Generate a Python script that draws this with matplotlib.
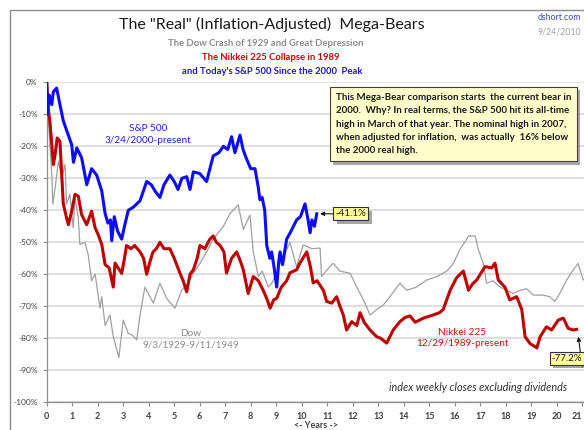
import matplotlib
matplotlib.use("Agg")
import matplotlib.pyplot as plt
import matplotlib.patheffects as pe
from matplotlib.patches import Rectangle

plt.rcParams['font.family'] = ['Lato', 'DejaVu Sans']

# S&P 500 real, from 3/24/2000 peak (years since peak, % off peak)
sp_years = [0.00, 0.02, 0.10, 0.20, 0.26, 0.39, 0.52, 0.65, 0.78, 0.98, 1.05, 1.18, 1.37, 1.50,
            1.57, 1.76, 1.96, 2.16, 2.29, 2.40, 2.50, 2.55, 2.65, 2.78, 2.94, 3.05, 3.20, 3.40,
            3.66, 3.92, 4.10, 4.25, 4.44, 4.60, 4.83, 5.00, 5.15, 5.30, 5.49, 5.62, 5.75, 6.00,
            6.27, 6.40, 6.53, 6.75, 6.93, 7.10, 7.25, 7.38, 7.58, 7.70, 7.84, 8.00, 8.17, 8.30,
            8.36, 8.45, 8.55, 8.63, 8.75, 8.82, 8.92, 9.02, 9.10, 9.15, 9.25, 9.41, 9.55, 9.80,
            9.95, 10.13, 10.25, 10.33, 10.40, 10.50, 10.59]
sp_pct = [0, -10, -4, -7, -3, -1.8, -7, -12, -15, -19.5, -25, -20.5, -23.6, -29,
          -32, -27, -29, -34, -41, -44, -43, -49.5, -42, -46.5, -49, -45, -40, -39,
          -37, -31, -32, -34, -36, -32, -29, -31, -33.5, -30, -29.5, -33.5, -28, -28.5,
          -31, -27, -23, -22, -20, -21, -17, -22, -16.5, -21, -24, -27, -27, -33,
          -36.7, -36, -40, -51, -55, -53, -58, -64, -56, -53, -57, -49, -47, -43,
          -42, -38, -43, -47, -43, -45, -41.1]

# Nikkei 225 real, from 12/29/1989
nk_years = [0.00, 0.06, 0.13, 0.20, 0.26, 0.33, 0.41, 0.52, 0.59, 0.65, 0.78, 0.85, 0.98, 1.11,
            1.24, 1.37, 1.57, 1.76, 1.90, 2.02, 2.16, 2.29, 2.45, 2.61, 2.68, 2.80, 2.94, 3.05,
            3.13, 3.30, 3.45, 3.66, 3.80, 3.92, 4.05, 4.17, 4.30, 4.44, 4.60, 4.83, 5.00, 5.22,
            5.35, 5.49, 5.62, 5.75, 5.90, 6.01, 6.20, 6.40, 6.53, 6.65, 6.80, 6.95, 7.05, 7.25,
            7.45, 7.60, 7.71, 7.90, 8.10, 8.30, 8.49, 8.65, 8.76, 8.90, 9.02, 9.20, 9.41, 9.54,
            9.80, 9.93, 10.20, 10.35, 10.45, 10.60, 10.85, 10.98, 11.18, 11.37, 11.50, 11.63,
            11.76, 11.96, 12.16, 12.29, 12.45, 12.68, 12.94, 13.10, 13.33, 13.59, 13.85, 14.05,
            14.25, 14.45, 14.77, 15.16, 15.40, 15.55, 15.82, 16.08, 16.34, 16.54, 16.70, 16.86,
            17.19, 17.45, 17.58, 17.71, 17.97, 18.16, 18.43, 18.63, 18.76, 18.95, 19.22, 19.35,
            19.60, 19.80, 20.06, 20.26, 20.45, 20.65, 20.78]
nk_pct = [0, -8, -12.7, -19.5, -25.7, -22.6, -17.4, -18.5, -29, -38, -42.4, -44.5, -40.3, -35,
          -35.6, -41.4, -44.5, -40.3, -45.5, -47.6, -50.7, -57, -58, -64, -56.5, -58, -59.7, -55,
          -51, -52, -51, -53, -55, -60, -56, -53, -52, -50, -52, -52, -55, -59.5,
          -62, -65.5, -60, -58.6, -55, -51, -52, -49, -48, -50, -51, -53, -59.6, -55,
          -53, -56, -58.6, -66, -60.7, -62, -65, -68, -70.6, -68, -67.5, -64, -62, -59.5,
          -58.6, -56.5, -53, -58, -62.7, -62, -65, -68.5, -69, -67, -70, -72.7,
          -77.4, -74.8, -76, -72, -75, -77.4, -79.5, -80, -81.5, -77.4, -74.8, -73.5,
          -73, -75, -73.7, -72.7, -72, -71, -65, -61, -59, -65, -63, -61.8,
          -57.6, -58, -56.5, -61.8, -64, -68, -67, -71, -79.5, -81.6, -83, -79.5,
          -76.4, -77.4, -74.3, -73.7, -76.9, -77.4, -77.2]

# Dow real, 9/3/1929 - 9/11/1949
dow_years = [0.00, 0.06, 0.13, 0.20, 0.24, 0.33, 0.46, 0.59, 0.72, 0.78, 0.91, 1.04, 1.11, 1.24,
             1.30, 1.50, 1.63, 1.76, 1.90, 2.09, 2.16, 2.29, 2.48, 2.61, 2.83, 3.00, 3.20, 3.35,
             3.53, 3.66, 3.85, 4.05, 4.18, 4.44, 4.70, 5.03, 5.29, 5.55, 5.75, 6.01, 6.27, 6.53,
             6.93, 7.19, 7.51, 7.71, 7.97, 8.10, 8.30, 8.45, 8.69, 8.85, 9.15, 9.54, 9.80, 10.06,
             10.40, 10.72, 10.78, 11.10, 11.24, 11.50, 11.90, 12.16, 12.42, 12.68, 12.94, 13.20,
             13.46, 13.85, 14.12, 14.50, 14.90, 15.30, 15.69, 15.95, 16.20, 16.47, 16.54, 16.80,
             16.93, 17.12, 17.25, 17.50, 17.78, 18.04, 18.30, 18.57, 18.82, 19.08, 19.47, 19.73,
             19.92, 20.12, 20.39, 20.65, 20.84, 21.04, 21.30]
dow_pct = [0, -11, -20, -29, -38, -33, -24.6, -30, -25.7, -38, -35, -45.5, -36, -42.4,
           -50.7, -50, -54, -62, -60, -70.6, -67, -76, -72.7, -79.5, -86, -74.3, -78.5, -79,
           -80.5, -72.7, -64, -67, -69, -62.8, -67.5, -70.6, -65, -62.8, -59.7, -56.6, -53, -49,
           -45, -41, -38.3, -46, -41.5, -53, -60.7, -59, -64, -62.5, -56.6, -50, -57.6, -50.8,
           -52, -51.8, -60.7, -57.6, -56.6, -59, -59.7, -64, -68, -72.7, -71, -69.6,
           -67, -62.8, -65, -64, -61.8, -60.7, -59, -56.6, -52.3, -49, -48, -48,
           -52.3, -56.6, -62.8, -62, -64, -65, -66, -65, -64.5, -66.5, -66.5, -67,
           -68.5, -66, -61.8, -58.6, -56.6, -61.8, -60]

y_ticks = list(range(0, -101, -10))
x_ticks = list(range(0, 22))

W, H = 584, 430
fig = plt.figure(figsize=(W / 100, H / 100), dpi=100)

# outer frame (runs off the right and bottom edges like the source)
fig.patches.append(Rectangle((10 / W, -0.05), 1.1, 1.05 - 10 / H, transform=fig.transFigure,
                             fill=False, edgecolor='#8c8c8c', linewidth=1.0))

ax = fig.add_axes([46.7 / W, 27.7 / H, 22 * 25.5 / W, 320 / H])
ax.set_xlim(0, 22)
ax.set_ylim(-100, 0)

ax.plot(dow_years, dow_pct, color='#a0a0a0', lw=0.9, zorder=3)
ax.plot(nk_years, nk_pct, color='#c00000', lw=2.2, zorder=4)
ax.plot(sp_years, sp_pct, color='#0c0cff', lw=2.2, zorder=5)

ax.set_yticks(y_ticks)
ax.set_yticklabels([f"{v}%" for v in y_ticks], fontsize=6, color='#404040')
ax.set_xticks(x_ticks)
ax.set_xticklabels([str(v) for v in x_ticks], fontsize=6.5, fontweight='bold', color='#404040')
ax.get_xticklabels()[-1].set_horizontalalignment('right')
ax.tick_params(axis='both', length=3, color='#8c8c8c', width=0.8)
ax.tick_params(axis='x', pad=4)
ax.grid(axis='y', color='#d9d9d9', lw=1.2, zorder=0)
for s in ['top', 'right']:
    ax.spines[s].set_visible(False)
for s in ['left', 'bottom']:
    ax.spines[s].set_color('#8c8c8c')
    ax.spines[s].set_linewidth(0.9)

# titles
fig.text(272 / W, 1 - 24 / H, 'The "Real" (Inflation-Adjusted)  Mega-Bears', ha='center', va='center',
         fontsize=11.5, color='#1a1a1a')
fig.text(266 / W, 1 - 43 / H, 'The Dow Crash of 1929 and Great Depression', ha='center', va='center',
         fontsize=6.8, fontweight='bold', color='#8c8c8c')
fig.text(271 / W, 1 - 58 / H, 'The Nikkei 225 Collapse in 1989', ha='center', va='center',
         fontsize=6.8, fontweight='bold', color='#cc0000')
fig.text(272 / W, 1 - 72 / H, "and Today's S&P 500 Since the 2000  Peak", ha='center', va='center',
         fontsize=6.8, fontweight='bold', color='#1a1acc')
fig.text(581 / W, 1 - 18 / H, 'dshort.com', ha='right', va='center', fontsize=6.3, color='#3050c0')
fig.text(581 / W, 1 - 32 / H, '9/24/2010', ha='right', va='center', fontsize=6.3, color='#a0a0a0')
fig.text(316 / W, 1 - 426 / H, '<- Years ->', ha='center', va='center', fontsize=6.5, fontweight='bold',
         color='#404040')

# series labels
ax.text(3.97, -16.3, 'S&P 500\n3/24/2000-present', ha='center', va='center', fontsize=7.2,
        color='#2020ff', linespacing=1.3, zorder=6)
ax.text(5.66, -80.3, 'Dow\n9/3/1929-9/11/1949', ha='center', va='center', fontsize=7.2,
        color='#8c8c8c', linespacing=1.3, zorder=6)
ax.text(16.3, -79.8, 'Nikkei 225\n12/29/1989-present', ha='center', va='center', fontsize=7.2,
        color='#d01010', linespacing=1.3, zorder=6)
ax.text(16.9, -95.5, 'index weekly closes excluding dividends', ha='center', va='center',
        fontsize=7.8, style='italic', color='#333333', zorder=6)

shadow = [pe.withSimplePatchShadow(offset=(2.5, -2.5), shadow_rgbFace='#808080', alpha=0.7)]

note = ("This Mega-Bear comparison starts  the current bear in\n"
        "2000.  Why? In real terms, the S&P 500 hit its all-time\n"
        "high in March of that year. The nominal high in 2007,\n"
        "when adjusted for inflation,  was actually  16% below\n"
        "the 2000 real high.")
t = ax.text(11.33, -3.3, note, ha='left', va='top', fontsize=7.0, fontweight='bold',
            color='#1a1a1a', linespacing=1.62, zorder=8,
            bbox=dict(boxstyle='square,pad=0.6', facecolor='#ffffcc', edgecolor='#404040', lw=0.8))
t.get_bbox_patch().set_path_effects(shadow)

a1 = ax.annotate('-41.1%', xy=(10.72, -41.1), xytext=(11.32, -41.1), ha='left', va='center',
                 fontsize=7, color='#1a1a1a', zorder=8,
                 bbox=dict(boxstyle='square,pad=0.2', facecolor='#ffffa0', edgecolor='#333333', lw=0.8),
                 arrowprops=dict(arrowstyle='-|>', color='#1a1a1a', lw=0.8, mutation_scale=6,
                                 shrinkA=0, shrinkB=0))
a1.get_bbox_patch().set_path_effects(shadow)

ax.annotate('', xy=(20.85, -79.5), xytext=(21.0, -89.0),
            arrowprops=dict(arrowstyle='-|>', color='#1a1a1a', lw=0.8, mutation_scale=6,
                            shrinkA=0, shrinkB=0), zorder=8)
t2 = ax.text(19.8, -86.2, '-77.2%', ha='left', va='center', fontsize=7, color='#1a1a1a', zorder=9,
             bbox=dict(boxstyle='square,pad=0.2', facecolor='#ffffa0', edgecolor='#333333', lw=0.8))
t2.get_bbox_patch().set_path_effects(shadow)

fig.savefig('out.png', dpi=100)
